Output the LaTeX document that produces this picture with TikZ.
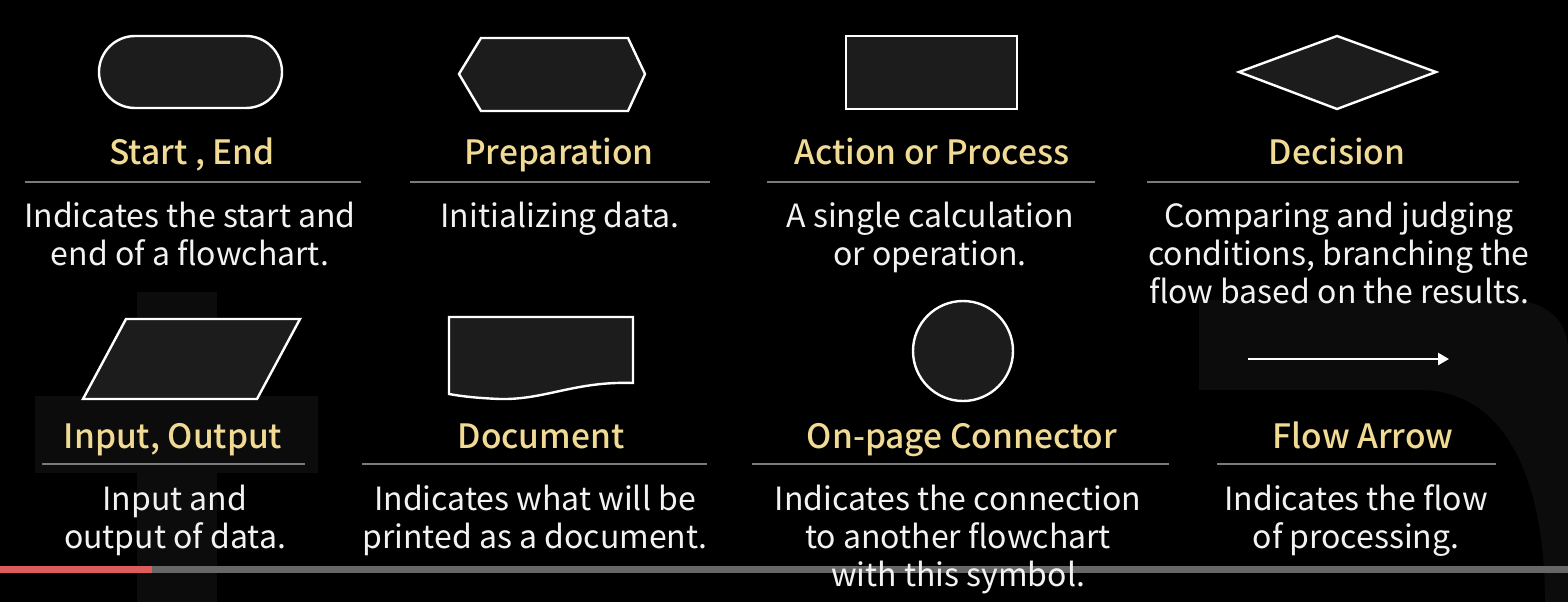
\documentclass[tikz,border=0pt]{standalone}
\usepackage{fontspec}
\setmainfont{Noto Sans CJK KR}[BoldFont={* Medium}]
\usetikzlibrary{arrows.meta}
\definecolor{shapefill}{HTML}{1C1C1C}
\definecolor{titlecol}{HTML}{F0DA94}
\definecolor{rulecol}{HTML}{7A7A7A}
\definecolor{bodycol}{HTML}{F2F2F2}
\definecolor{faint}{HTML}{0C0C0C}
\definecolor{barred}{HTML}{DD5C5C}
\definecolor{bargray}{HTML}{676767}
\begin{document}
\begin{tikzpicture}[x=1pt,y=-1pt,
  symbol/.style={draw=white, line width=2.4pt, fill=shapefill, line join=miter},
  title/.style={text=titlecol, font=\fontsize{33.5}{38}\selectfont\bfseries, anchor=base, inner sep=0pt},
  desc/.style={text=bodycol, font=\fontsize{32}{38}\selectfont, align=center, anchor=base, inner sep=0pt},
  rule/.style={draw=rulecol, line width=2pt}]

% background
\fill[black] (0,0) rectangle (1568,602);
\useasboundingbox (0,0) rectangle (1568,602);

% faint backdrop shapes
\fill[faint] (137,292) rectangle (217,602);
\fill[faint] (35,396) rectangle (318,473);
\fill[faint] (1199,300) -- (1510,300) .. controls (1545,300) and (1568,320) .. (1568,350)
  -- (1568,602) -- (1545,602) .. controls (1545,470) and (1500,390) .. (1420,390) -- (1199,390) -- cycle;

% ---- row 1 symbols
\draw[symbol, rounded corners=36pt] (99,36) rectangle (282,108);
\draw[symbol] (459,74) -- (481,38) -- (628,38) -- (645,74) -- (628,111) -- (481,111) -- cycle;
\draw[symbol] (846,36) rectangle (1017,109);
\draw[symbol] (1239,72) -- (1337,36) -- (1436,72) -- (1337,109) -- cycle;

% ---- row 2 symbols
\draw[symbol] (126,319) -- (300,319) -- (257,399) -- (83,399) -- cycle;
\draw[symbol] (449,317) -- (633,317) -- (633,383)
  .. controls (575,381) and (545,400) .. (500,399)
  .. controls (475,398) and (460,396) .. (449,394) -- cycle;
\draw[symbol] (963,351) circle (50);
\coordinate (arrowstart) at (1248,359);
\coordinate (arrowend) at (1449,359);
\draw[white, line width=2.5pt, -{Triangle[length=11pt,width=12pt]}] (arrowstart) -- (arrowend);

% ---- titles
\node[title] (t1) at (192,164) {Start , End};
\node[title] (t2) at (559,164) {Preparation};
\node[title] (t3) at (932,164) {Action or Process};
\node[title] (t4) at (1337,164) {Decision};
\node[title] (t5) at (173,448) {Input, Output};
\node[title] (t6) at (541,448) {Document};
\node[title] (t7) at (962,448) {On-page Connector};
\node[title] (t8) at (1363,448) {Flow Arrow};

% ---- rules
\draw[rule] (25,182) -- (361,182);
\draw[rule] (410,182) -- (710,182);
\draw[rule] (767,182) -- (1095,182);
\draw[rule] (1147,182) -- (1519,182);
\draw[rule] (42,464) -- (305,464);
\draw[rule] (362,464) -- (707,464);
\draw[rule] (752,464) -- (1169,464);
\draw[rule] (1217,464) -- (1496,464);

% ---- player progress bar
\fill[bargray] (152,566) rectangle (1568,573);
\fill[barred] (0,566) rectangle (152,573);

% ---- descriptions (anchored at the baseline of their last line)
\node[desc] (d1) at (190,265) {Indicates the start and\\end of a flowchart.};
\node[desc] (d2) at (560,227) {Initializing data.};
\node[desc] (d3) at (930,265) {A single calculation\\or operation.};
\node[desc] (d4) at (1339,303) {Comparing and judging\\conditions, branching the\\flow based on the results.};
\node[desc] (d5) at (175,548) {Input and\\output of data.};
\node[desc] (d6) at (535,548) {Indicates what will be\\printed as a document.};
\node[desc] (d7) at (958,586) {Indicates the connection\\to another flowchart\\with this symbol.};
\node[desc] (d8) at (1356,548) {Indicates the flow\\of processing.};
\end{tikzpicture}
\end{document}
